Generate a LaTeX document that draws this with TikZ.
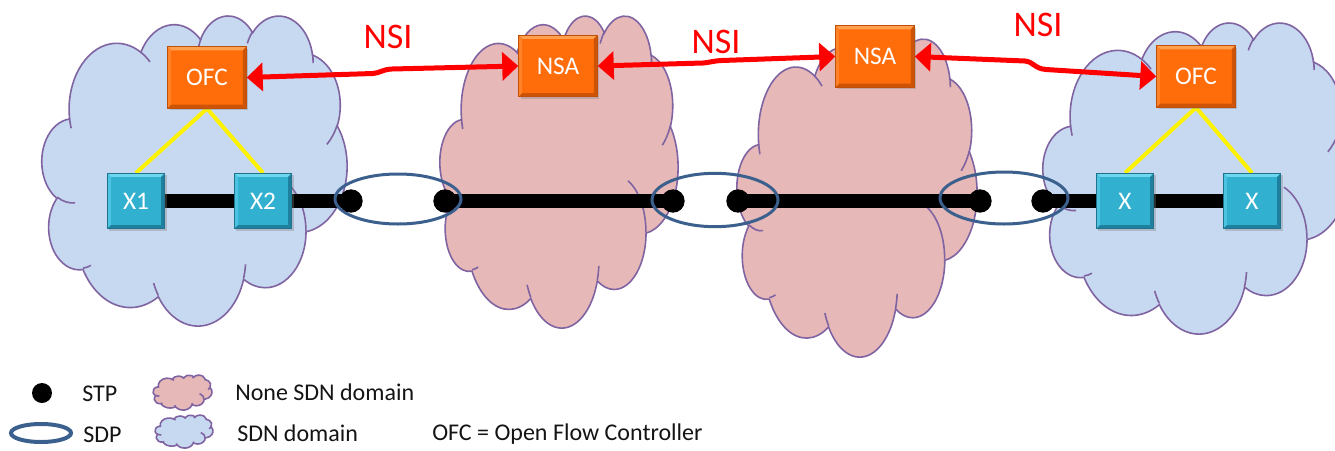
\documentclass[tikz,border=0pt]{standalone}
\usepackage{fontspec}
\setmainfont{Carlito}
\usetikzlibrary{arrows.meta,shapes.geometric,shadows}
\definecolor{cloudline}{RGB}{128,100,162}
\definecolor{bluefill}{RGB}{198,217,240}
\definecolor{pinkfill}{RGB}{230,184,183}
\definecolor{ofcfill}{RGB}{255,108,10}
\definecolor{ofclight}{RGB}{255,160,80}
\definecolor{ofcmid}{RGB}{255,130,40}
\definecolor{ofcdark}{RGB}{205,84,6}
\definecolor{ofcedge}{RGB}{190,80,10}
\definecolor{swfill}{RGB}{49,176,208}
\definecolor{swlight}{RGB}{110,215,238}
\definecolor{swmid}{RGB}{75,195,225}
\definecolor{swdark}{RGB}{30,128,158}
\definecolor{swedge}{RGB}{32,115,140}
\definecolor{sdpcol}{RGB}{60,96,142}
\definecolor{legtext}{RGB}{20,20,20}

% arc helper: converts DrawingML visual angles to parametric angles
\newcommand\defarc[5]{%
  \pgfmathsetmacro\tmpS{atan2((#2)*sin(#4),(#3)*cos(#4))}%
  \pgfmathsetmacro\tmpE{atan2((#2)*sin((#4)+(#5)),(#3)*cos((#4)+(#5)))}%
  \pgfmathsetmacro\tmpD{\tmpE-\tmpS}%
  \pgfmathsetmacro\tmpD{((#5)>0 && \tmpD<0) ? \tmpD+360 : (((#5)<0 && \tmpD>0) ? \tmpD-360 : \tmpD)}%
  \expandafter\xdef\csname cS#1\endcsname{\tmpS}%
  \expandafter\xdef\csname cD#1\endcsname{\tmpD}%
}
\defarc{a}{67.53}{91.90}{-190.4875}{123.7805}
\defarc{b}{53.33}{72.67}{-144.1024}{89.9452}
\defarc{c}{43.65}{59.45}{-145.8079}{99.7230}
\defarc{d}{48.57}{65.95}{-130.9861}{117.2417}
\defarc{e}{53.33}{72.73}{-78.7089}{109.0269}
\defarc{f}{67.75}{92.20}{-46.2673}{130.2690}
\defarc{g}{57.85}{78.67}{0.6250}{114.0333}
\defarc{h}{67.52}{92.15}{22.4516}{115.1726}
\defarc{i}{77.20}{105.43}{66.2426}{75.7110}
\defarc{j}{43.60}{59.18}{-274.9421}{146.7356}
\defarc{k}{43.45}{59.45}{-246.8285}{152.5189}
% inner hooks
\defarc{ha}{43.45}{59.45}{86.742}{26.430}
\defarc{hb}{43.60}{59.18}{73.610}{11.447}
\defarc{hc}{67.52}{92.15}{137.624}{14.081}
\defarc{hd}{67.52}{92.15}{6.453}{15.998}
\defarc{he}{57.85}{78.67}{-70.292}{70.917}
\defarc{hf}{53.33}{72.73}{30.318}{27.752}
\defarc{hg}{48.57}{65.95}{-13.744}{14.859}
\defarc{hh}{48.57}{65.95}{-149.181}{18.195}
\defarc{hi}{43.65}{59.45}{-163.494}{17.686}
\defarc{hj}{67.53}{91.90}{-66.707}{12.319}
\defarc{hk}{67.53}{91.90}{157.654}{11.858}

\pgfdeclarelayer{bg}
\pgfdeclarelayer{mid}
\pgfsetlayers{bg,mid,main}

% bevel strips: #1 top, #2 left, #3 right/bottom
\newcommand\bevelstrips[3]{%
  \fill[#1] (path picture bounding box.north west) -- (path picture bounding box.north east)
    -- ([shift={(-2.6pt,-2.6pt)}]path picture bounding box.north east)
    -- ([shift={(2.6pt,-2.6pt)}]path picture bounding box.north west) -- cycle;
  \fill[#2] (path picture bounding box.north west) -- (path picture bounding box.south west)
    -- ([shift={(2.6pt,2.6pt)}]path picture bounding box.south west)
    -- ([shift={(2.6pt,-2.6pt)}]path picture bounding box.north west) -- cycle;
  \fill[#3] (path picture bounding box.north east) -- (path picture bounding box.south east)
    -- ([shift={(-2.6pt,2.6pt)}]path picture bounding box.south east)
    -- ([shift={(-2.6pt,-2.6pt)}]path picture bounding box.north east) -- cycle;
  \fill[#3] (path picture bounding box.south west) -- (path picture bounding box.south east)
    -- ([shift={(-2.6pt,2.6pt)}]path picture bounding box.south east)
    -- ([shift={(2.6pt,2.6pt)}]path picture bounding box.south west) -- cycle;}

\tikzset{
  cloudedge/.style={draw=cloudline, line width=1.2pt},
  ctrl/.style={rectangle, fill=ofcfill, draw=ofcedge, line width=0.6pt,
    minimum width=59pt, minimum height=46pt, inner sep=0pt, text=white,
    font=\fontsize{19}{20}\selectfont,
    path picture={\bevelstrips{ofclight}{ofcmid}{ofcdark}},
    drop shadow={opacity=0.35, shadow xshift=1.5pt, shadow yshift=-1.5pt}},
  switchbox/.style={rectangle, fill=swfill, draw=swedge, line width=0.6pt,
    minimum width=43pt, minimum height=41.5pt, inner sep=0pt, text=white,
    font=\fontsize{19}{20}\selectfont,
    path picture={\bevelstrips{swlight}{swmid}{swdark}},
    drop shadow={opacity=0.35, shadow xshift=1.5pt, shadow yshift=-1.5pt}},
  stp/.style={circle, fill=black, minimum size=17.5pt, inner sep=0pt},
  sdp/.style={ellipse, draw=sdpcol, line width=2.25pt, inner sep=0pt},
  blackline/.style={line width=10pt, black},
  yline/.style={line width=3pt, yellow},
  nsi/.style={red, line width=3.75pt,
    arrows={Triangle[length=12pt, width=21pt]-Triangle[length=12pt, width=21pt]}},
  nsilabel/.style={text=red, font=\fontsize{27}{30}\selectfont, anchor=base, inner sep=0pt},
  legend/.style={text=legtext, font=\fontsize{18}{20}\selectfont, anchor=base west, inner sep=0pt},
}

\newcommand\pptcloud[5]{%
  \pgfmathsetmacro\cxs{(#3)/432}\pgfmathsetmacro\cys{(#4)/432}%
  \begin{scope}[shift={(#1,#2)}, xscale=\cxs, yscale=\cys]
    \filldraw[cloudedge, fill=#5] (39,143.7)
      arc[start angle=\cSa, delta angle=\cDa, x radius=67.53, y radius=91.90]
      arc[start angle=\cSb, delta angle=\cDb, x radius=53.33, y radius=72.67]
      arc[start angle=\cSc, delta angle=\cDc, x radius=43.65, y radius=59.45]
      arc[start angle=\cSd, delta angle=\cDd, x radius=48.57, y radius=65.95]
      arc[start angle=\cSe, delta angle=\cDe, x radius=53.33, y radius=72.73]
      arc[start angle=\cSf, delta angle=\cDf, x radius=67.75, y radius=92.20]
      arc[start angle=\cSg, delta angle=\cDg, x radius=57.85, y radius=78.67]
      arc[start angle=\cSh, delta angle=\cDh, x radius=67.52, y radius=92.15]
      arc[start angle=\cSi, delta angle=\cDi, x radius=77.20, y radius=105.43]
      arc[start angle=\cSj, delta angle=\cDj, x radius=43.60, y radius=59.18]
      arc[start angle=\cSk, delta angle=\cDk, x radius=43.45, y radius=59.45]
      -- cycle;
    \draw[cloudedge]
      (46.93,261.77) arc[start angle=\cSha, delta angle=\cDha, x radius=43.45, y radius=59.45]
      (69.28,348.99) arc[start angle=\cShb, delta angle=\cDhb, x radius=43.60, y radius=59.18]
      (164.78,390.90) arc[start angle=\cShc, delta angle=\cDhc, x radius=67.52, y radius=92.15]
      (288.27,347.51) arc[start angle=\cShd, delta angle=\cDhd, x radius=67.52, y radius=92.15]
      (341.29,229.54) arc[start angle=\cShe, delta angle=\cDhe, x radius=57.85, y radius=78.67]
      (417.98,153.54) arc[start angle=\cShf, delta angle=\cDhf, x radius=53.33, y radius=72.73]
      (383.24,54.26) arc[start angle=\cShg, delta angle=\cDhg, x radius=48.57, y radius=65.95]
      (290.78,39.52) arc[start angle=\cShh, delta angle=\cDhh, x radius=48.57, y radius=65.95]
      (221.41,47.20) arc[start angle=\cShi, delta angle=\cDhi, x radius=43.65, y radius=59.45]
      (140.00,51.92) arc[start angle=\cShj, delta angle=\cDhj, x radius=67.53, y radius=91.90]
      (41.27,157.89) arc[start angle=\cShk, delta angle=\cDhk, x radius=67.53, y radius=91.90];
  \end{scope}}

\begin{document}
\begin{tikzpicture}[x=0.75pt, y=-0.75pt]
\useasboundingbox (0,0) rectangle (1335,450);

% clouds
\begin{pgfonlayer}{bg}
  \pptcloud{42}{15}{305}{310}{bluefill}
  \pptcloud{440}{15}{238}{312}{pinkfill}
  \pptcloud{737}{38}{240}{318}{pinkfill}
  \pptcloud{1043}{22}{305}{311}{bluefill}
  \pptcloud{153}{375}{59}{35}{pinkfill}
  \pptcloud{155}{415}{58}{33}{bluefill}
\end{pgfonlayer}

% boxes
\node[ctrl] (ofcL) at (207,77.5) {OFC};
\node[ctrl] (nsa1) at (558,66) {NSA};
\node[ctrl] (nsa2) at (875,56.5) {NSA};
\node[ctrl] (ofcR) at (1196,76.5) {OFC};
\node[switchbox] (x1) at (136,201) {X1};
\node[switchbox] (x2) at (263,201) {X2};
\node[switchbox] (xa) at (1125,201) {X};
\node[switchbox] (xb) at (1252,201) {X};

% SDP ellipses
\node[sdp, minimum width=94.5pt, minimum height=37.5pt] (e1) at (398,199) {};
\node[sdp, minimum width=94.5pt, minimum height=40pt] (e2) at (715,200) {};
\node[sdp, minimum width=96pt, minimum height=39pt] (e3) at (1004,198) {};

% STPs
\node[stp] (s1) at (351,201) {};
\node[stp] (s2) at (445,201) {};
\node[stp] (s3) at (673,201) {};
\node[stp] (s4) at (738,201) {};
\node[stp] (s5) at (980,201) {};
\node[stp] (s6) at (1043,201) {};

% data plane and control links
\begin{pgfonlayer}{mid}
  \draw[blackline] (x1.east) -- (x2.west);
  \draw[blackline] (x2.east) -- (s1.center);
  \draw[blackline] (s2.center) -- (s3.center);
  \draw[blackline] (s4.center) -- (s5.center);
  \draw[blackline] (s6.center) -- (xa.west);
  \draw[blackline] (xa.east) -- (xb.west);
  \draw[yline] (ofcL.south) -- (x1.north);
  \draw[yline] (ofcL.south) -- (x2.north);
  \draw[yline] (ofcR.south) -- (xa.north);
  \draw[yline] (ofcR.south) -- (xb.north);
\end{pgfonlayer}

% NSI arrows
\draw[nsi] (ofcL.east) -- (373,73.5) .. controls (380,73) and (382,69.5) .. (392,69) -- (nsa1.west);
\draw[nsi] (nsa1.east) -- (703,63) .. controls (710,62.5) and (712,61) .. (722,60.5) -- (nsa2.west);
\draw[nsi] (nsa2.east) -- (1025,61) .. controls (1034,62) and (1034,68.5) .. (1046,69.5) -- (ofcR.west);

\node[nsilabel] (nsiA) at (388,48.5) {NSI};
\node[nsilabel] (nsiB) at (716,53.3) {NSI};
\node[nsilabel] (nsiC) at (1038,36.7) {NSI};

% legend
\node[stp, minimum size=15pt] (ldot) at (42,393) {};
\node[legend] (lstp) at (82,401) {STP};
\node[legend] (lnone) at (235,400.5) {None SDN domain};
\node[sdp, minimum width=45pt, minimum height=13.5pt, line width=3pt] (lsdp) at (41,433) {};
\node[legend] (lsdpt) at (83,442) {SDP};
\node[legend] (lsdn) at (237,441.5) {SDN domain};
\node[legend] (lofc) at (432,440.5) {OFC = Open Flow Controller};
\end{tikzpicture}
\end{document}
